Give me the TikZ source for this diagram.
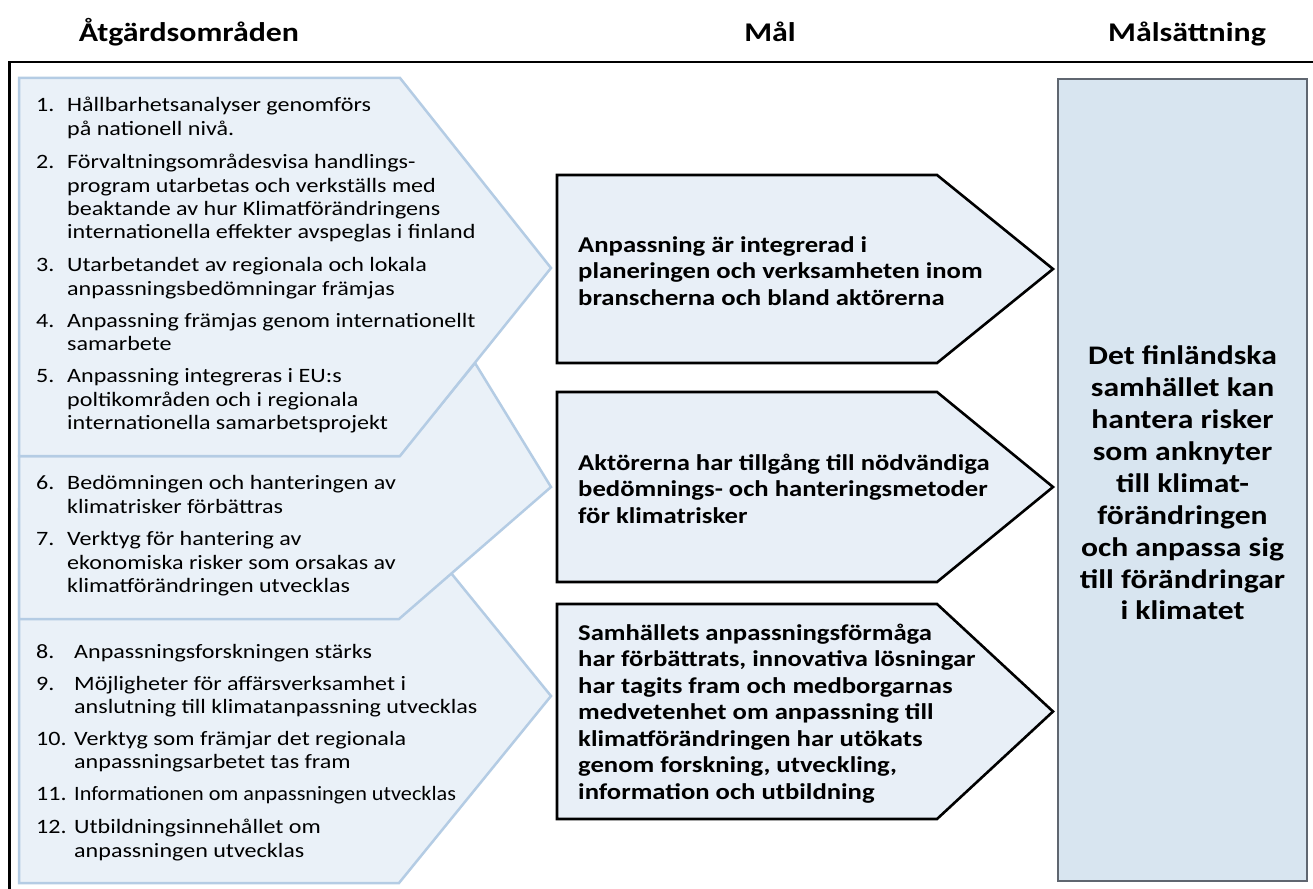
\documentclass[tikz,border=0pt]{standalone}
\usepackage{fontspec}
\setmainfont{Carlito}
\newfontfamily\widefam[FakeStretch=1.18]{Carlito}
\newfontfamily\midfam[FakeStretch=1.09]{Carlito}
\definecolor{chevfill}{HTML}{EAF1F8}
\definecolor{chevline}{HTML}{B4CCE4}
\definecolor{goalfill}{HTML}{E8EFF7}
\definecolor{rfill}{HTML}{D8E5F0}
\definecolor{rline}{HTML}{5F6670}
\begin{document}
\begin{tikzpicture}[x=1pt,y=-1pt,
  chev/.style={fill=chevfill,draw=chevline,line width=2.5pt,line join=miter},
  goalshape/.style={fill=goalfill,draw=black,line width=2.6pt,line join=miter},
  itm/.style={anchor=base west,inner sep=0pt,font=\widefam\fontsize{20.4}{24}\selectfont},
  gtxt/.style={anchor=base west,inner sep=0pt,font=\widefam\bfseries\fontsize{22.6}{26}\selectfont},
  rtxt/.style={anchor=base,inner sep=0pt,font=\widefam\bfseries\fontsize{26.8}{32}\selectfont},
  hdr/.style={anchor=base,inner sep=0pt,font=\widefam\bfseries\fontsize{27}{30}\selectfont}]
\useasboundingbox (0,0) rectangle (1313,888);
\fill[white] (0,0) rectangle (1313,888);
% headers
\node[hdr] (h1) at (189,42) {Åtgärdsområden};
\node[hdr] (h2) at (770,42) {Mål};
\node[hdr] (h3) at (1187,42) {Målsättning};
% frame
\draw[line width=2.2pt] (9.5,900) -- (9.5,62) -- (1330,62);
% left chevrons
\draw[chev] (19,509) -- (399,509) -- (551,696) -- (399,883) -- (19,883) -- cycle;
\draw[chev] (19,456) -- (399,456) -- (475,363) -- (551,487) -- (399,619) -- (19,619) -- cycle;
\draw[chev] (19,78) -- (400,78) -- (551,268) -- (400,456) -- (19,456) -- cycle;
% numbers
\foreach \y/\t [count=\i] in {112/1.,168.5/2.,271.5/3.,327/4.,382.5/5.,489.5/6.,545/7.,658/8.,690/9.,745/10.,800.5/11.,833.5/12.}
  \node[itm] (n\i) at (36,\y) {\t};
% item texts
\foreach \y/\t [count=\i] in {
  112/Hållbarhetsanalyser genomförs,
  135.4/på nationell nivå.,
  168.5/Förvaltningsområdesvisa handlings-,
  192/program utarbetas och verkställs med,
  215.3/beaktande av hur Klimatförändringens,
  238.7/internationella effekter avspeglas i finland,
  271.5/Utarbetandet av regionala och lokala,
  295/anpassningsbedömningar främjas,
  327/Anpassning främjas genom internationellt,
  350.5/samarbete,
  382.5/Anpassning integreras i EU:s,
  406/poltikområden och i regionala,
  429.5/internationella samarbetsprojekt,
  489.5/Bedömningen och hanteringen av,
  513/klimatrisker förbättras,
  545/Verktyg för hantering av,
  569/ekonomiska risker som orsakas av,
  592.5/klimatförändringen utvecklas}
  \node[itm] (t\i) at (67,\y) {\t};
\foreach \y/\t [count=\i] in {
  658/Anpassningsforskningen stärks,
  690/Möjligheter för affärsverksamhet i,
  713.5/anslutning till klimatanpassning utvecklas,
  745/Verktyg som främjar det regionala,
  768.5/anpassningsarbetet tas fram,
  800.5/{\midfam Informationen om anpassningen utvecklas},
  833.5/Utbildningsinnehållet om,
  857/anpassningen utvecklas}
  \node[itm] (u\i) at (74,\y) {\t};
% goal shapes
\draw[goalshape] (557,175) -- (937,175) -- (1053,269) -- (937,363) -- (557,363) -- cycle;
\draw[goalshape] (557,392) -- (937,392) -- (1053,487) -- (937,582) -- (557,582) -- cycle;
\draw[goalshape] (557,604) -- (937,604) -- (1053,711.5) -- (937,819) -- (557,819) -- cycle;
\foreach \y/\t [count=\i] in {
  252/Anpassning är integrerad i,
  278.5/planeringen och verksamheten inom,
  305/branscherna och bland aktörerna,
  470/Aktörerna har tillgång till nödvändiga,
  496.5/bedömnings- och hanteringsmetoder,
  523/för klimatrisker,
  640/Samhällets anpassningsförmåga,
  666.5/{har förbättrats, innovativa lösningar},
  693/har tagits fram och medborgarnas,
  719.5/medvetenhet om anpassning till,
  746/klimatförändringen har utökats,
  772.5/{genom forskning, utveckling,},
  799/information och utbildning}
  \node[gtxt] (g\i) at (578,\y) {\t};
% right box
\draw[fill=rfill,draw=rline,line width=1.4pt] (1058,79) rectangle (1307,881);
\foreach \y/\t [count=\i] in {
  364/Det finländska,
  396/samhället kan,
  428/hantera risker,
  460/som anknyter,
  492/till klimat-,
  524/förändringen,
  556/och anpassa sig,
  588/till förändringar,
  619/i klimatet}
  \node[rtxt] (r\i) at (1182.5,\y) {\t};
\end{tikzpicture}
\end{document}
